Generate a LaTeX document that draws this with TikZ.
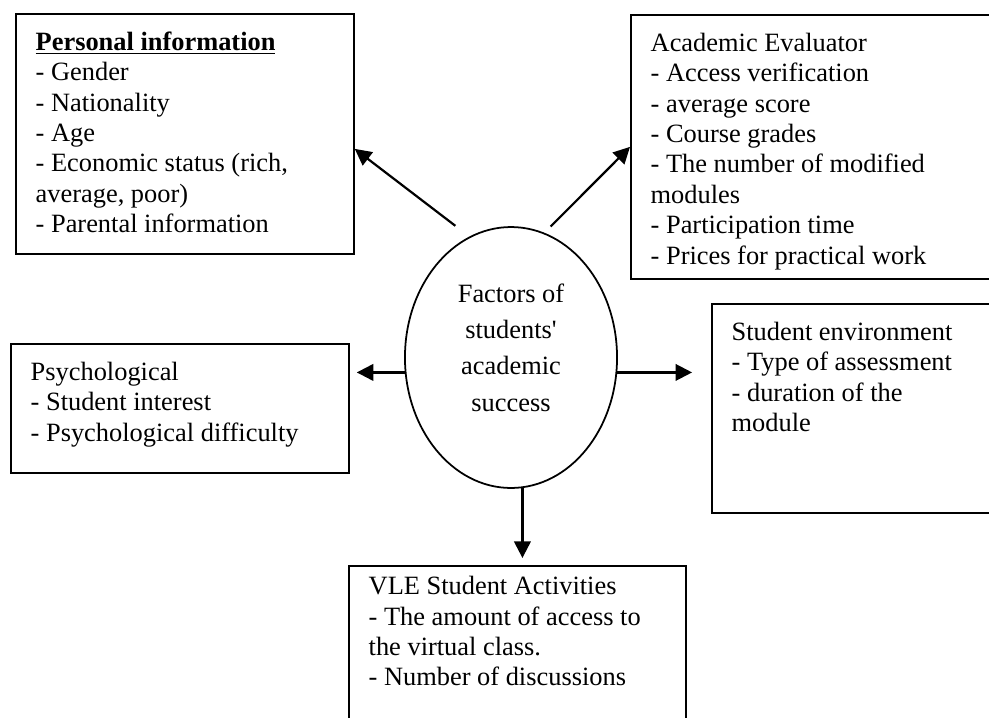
\documentclass[tikz,border=0pt]{standalone}
\usepackage{fontspec}
\setmainfont{Liberation Serif}[Ligatures=TeXOff]
\usepackage{tikz}
\usetikzlibrary{arrows.meta,positioning,shapes.geometric}
\newdimen\pxu
\pxu=0.4545pt

\begin{document}
\begin{tikzpicture}[x=0.4545pt,y=-0.4545pt,
    panel/.style 2 args={draw,line width=0.8pt,anchor=north west,
      inner xsep=9pt,inner ysep=7pt,
      execute at begin node={\begin{minipage}[t][\dimexpr#2\pxu-14pt\relax][t]{\dimexpr#1\pxu-18pt\relax}%
        \fontsize{12}{13.8}\selectfont\raggedright\strut},
      execute at end node={\end{minipage}}},
    hub/.style={draw,ellipse,line width=0.8pt,inner sep=0pt,
      minimum width=96.4pt,minimum height=118.6pt,align=center,
      text depth=9pt,font=\fontsize{12}{16.4}\selectfont},
    arr/.style={line width=1pt,-{Triangle[length=7.5pt,width=7.5pt]}}]
  \useasboundingbox (0,0) rectangle (989,717);
  \clip (0,0) rectangle (989,717);

  \node[hub] (factors) at (511,357.5) {Factors of\\students'\\academic\\success};

  \node[panel={338}{240}] (personal) at (15,13)
    {\underline{\textbf{Personal information}}\\- Gender\\- Nationality\\- Age\\
     - Economic status (rich,\\average, poor)\\- Parental information};
  \node[panel={365}{264}] (academic) at (630,14)
    {Academic Evaluator\\- Access verification\\- average score\\- Course grades\\
     - The number of modified\\modules\\- Participation time\\- Prices for practical work};
  \node[panel={338}{129}] (psych) at (10,343)
    {Psychological\\- Student interest\\- Psychological difficulty};
  \node[panel={284}{209}] (env) at (711,303)
    {Student environment\\- Type of assessment\\- duration of the\\module};
  \node[panel={337}{185},inner ysep=3.5pt] (vle) at (348,565)
    {VLE Student Activities\\- The amount of access to\\the virtual class.\\- Number of discussions};

  \draw[arr,shorten <=8pt] (factors.109) -- ([shift={(0,15)}]personal.east);
  \draw[arr,shorten <=4pt] (factors.75) -- (academic.west);
  \draw[arr,shorten >=3.2pt] (factors.188) -- (factors.188 -| psych.east);
  \draw[arr,shorten >=8.6pt] (factors.352) -- (factors.352 -| env.west);
  \draw[arr,shorten >=3.2pt] (factors.275) -- (factors.275 |- vle.north);
\end{tikzpicture}
\end{document}
